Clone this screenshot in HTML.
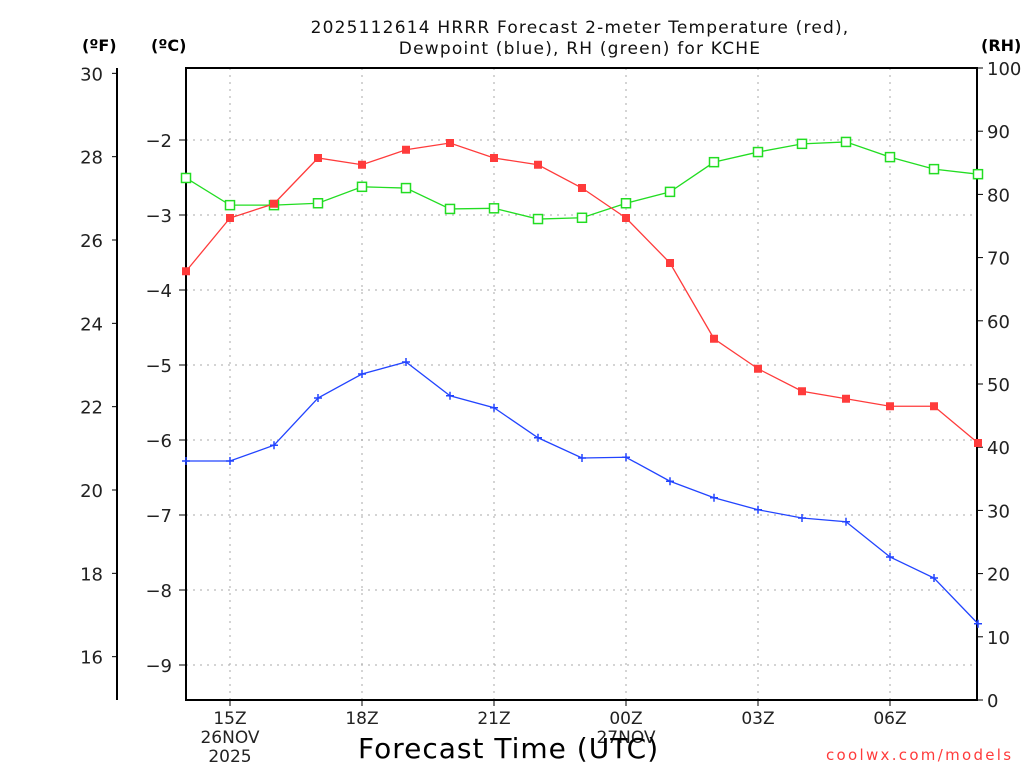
<!DOCTYPE html>
<html><head><meta charset="utf-8"><style>
body{margin:0;background:#fff;width:1024px;height:768px;overflow:hidden}
svg text{font-family:"DejaVu Sans","Liberation Sans",sans-serif}
</style></head><body>
<svg id="c" width="1024" height="768" xmlns="http://www.w3.org/2000/svg"></svg>
<script>
const hours=[14,15,16,17,18,19,20,21,22,23,24,25,26,27,28,29,30,31,32];
const tempC=[-3.75,-3.04,-2.85,-2.24,-2.33,-2.13,-2.04,-2.24,-2.33,-2.64,-3.04,-3.64,-4.65,-5.05,-5.35,-5.45,-5.55,-5.55,-6.04];
const dewC=[-6.28,-6.28,-6.07,-5.44,-5.12,-4.96,-5.41,-5.57,-5.97,-6.24,-6.23,-6.55,-6.77,-6.93,-7.04,-7.09,-7.56,-7.84,-8.45];
const rh=[82.6,78.3,78.3,78.6,81.2,81.0,77.7,77.8,76.1,76.3,78.6,80.4,85.1,86.7,88.0,88.3,85.9,84.0,83.2];
const cTicks=[-2,-3,-4,-5,-6,-7,-8,-9];
const fTicks=[30,28,26,24,22,20,18,16];
const rhTicks=[0,10,20,30,40,50,60,70,80,90,100];
const xTickHours=[15,18,21,24,27,30];
const xTickLabels=["15Z","18Z","21Z","00Z","03Z","06Z"];

const L=186,R=977,T=68,B=700;
const X=h=>L+(h-14)*44;
const YC=c=>140+(-2-c)*75;
const YF=f=>YC((f-32)/1.8);
const YR=r=>B-r*(B-T)/100;
const svg=document.getElementById('c');
const NS='http://www.w3.org/2000/svg';
function el(tag,attrs,parent){const e=document.createElementNS(NS,tag);for(const k in attrs)e.setAttribute(k,attrs[k]);(parent||svg).appendChild(e);return e;}
function txt(s,x,y,size,anchor,fill,parent){const t=el('text',{x:x,y:y,'font-size':size,'text-anchor':anchor||'middle',fill:fill||'#000'},parent);t.textContent=s;return t;}

const grid=el('g',{});


cTicks.forEach(c=>{el('line',{x1:L,x2:R,y1:YC(c),y2:YC(c),stroke:'#aaa','stroke-dasharray':'2,5'},grid);});
xTickHours.forEach(h=>{el('line',{x1:X(h),x2:X(h),y1:T,y2:B,stroke:'#aaa','stroke-dasharray':'2,5'},grid);});

const fr=el('rect',{x:L,y:T,width:R-L,height:B-T,fill:'none',stroke:'#000','stroke-width':2});



const cax=el('g',{});


cTicks.forEach(c=>{el('line',{x1:L-7,x2:L,y1:YC(c),y2:YC(c),stroke:'#000'},cax);txt('\u2212'+Math.abs(c),L-14,YC(c)+7,18,'end','#222',cax);});
const fax=el('g',{});


el('line',{x1:117,x2:117,y1:T,y2:B,stroke:'#000','stroke-width':2},fax);
fTicks.forEach(f=>{el('line',{x1:112,x2:117,y1:YF(f),y2:YF(f),stroke:'#000'},fax);txt(String(f),103,YF(f)+7,18,'end','#222',fax);});
const rax=el('g',{});


rhTicks.forEach(r=>{el('line',{x1:R,x2:R+6,y1:YR(r),y2:YR(r),stroke:'#000'},rax);txt(String(r),R+10,YR(r)+7,18,'start','#222',rax);});
const xax=el('g',{});


xTickHours.forEach((h,i)=>{el('line',{x1:X(h),x2:X(h),y1:B,y2:B+6,stroke:'#000'},xax);txt(xTickLabels[i],X(h),B+24,17,'middle','#222',xax);});
txt('26NOV',X(15),B+43,17,'middle','#222',xax);
txt('2025',X(15),B+62,17,'middle','#222',xax);
txt('27NOV',X(24),B+43,17,'middle','#222',xax);

function series(vals,yf,color,marker,name){
  const g=el('g',{});
  
  
  el('polyline',{points:vals.map((v,i)=>X(hours[i])+','+yf(v)).join(' '),fill:'none',stroke:color,'stroke-width':1.3},g);
  vals.forEach((v,i)=>{const x=X(hours[i]),y=yf(v);let m;
    if(marker==='fill')m=el('rect',{x:x-4,y:y-4,width:8,height:8,fill:color},g);
    else if(marker==='open')m=el('rect',{x:x-4.5,y:y-4.5,width:9,height:9,fill:'#fff',stroke:color,'stroke-width':1.5},g);
    else m=el('path',{d:`M${x-4},${y}H${x+4}M${x},${y-4}V${y+4}`,stroke:color,'stroke-width':1.5},g);
    
    
  });
}
series(rh,YR,'#22dd22','open','rh-series');
series(tempC,YC,'#ff3b3b','fill','temperature-series');
series(dewC,YC,'#2244ff','plus','dewpoint-series');
</script>
<div style="position:absolute;left:0;top:0;width:1024px;height:768px;pointer-events:none;font-family:'DejaVu Sans','Liberation Sans',sans-serif">
<div style="position:absolute;left:180px;top:18px;width:800px;text-align:center;font-size:17px;line-height:21px;color:#111;letter-spacing:1.2px">2025112614 HRRR Forecast 2-meter Temperature (red),<br>Dewpoint (blue), RH (green) for KCHE</div>
<div style="position:absolute;left:82px;top:36px;font-size:16px;font-weight:bold">(ºF)</div>
<div style="position:absolute;left:151px;top:36px;font-size:16px;font-weight:bold">(ºC)</div>
<div style="position:absolute;left:981px;top:36px;font-size:16px;font-weight:bold">(RH)</div>
<div style="position:absolute;left:358px;top:732px;font-size:28px;letter-spacing:1px">Forecast Time (UTC)</div>
<div style="position:absolute;left:826px;top:746px;font-size:15px;color:#ff3b3b;letter-spacing:2.3px">coolwx.com/models</div>
</div>
</body></html>
